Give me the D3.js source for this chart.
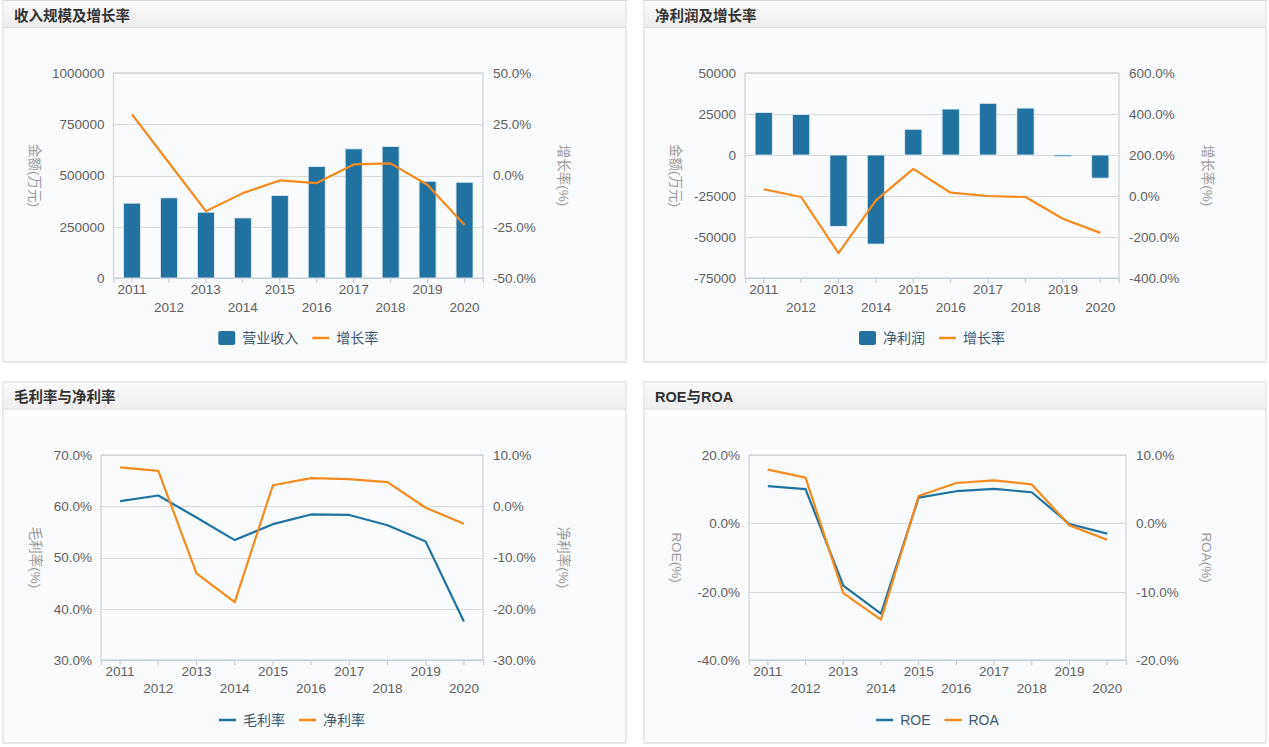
<!DOCTYPE html>
<html><head><meta charset="utf-8">
<script src="https://cdn.jsdelivr.net/npm/d3@7/dist/d3.min.js"></script>
<style>
html,body{margin:0;padding:0;background:#fff;}
svg{display:block;font-family:"Liberation Sans","Noto Sans CJK SC",sans-serif;}
</style></head><body>
<svg id="c" width="1269" height="747"></svg>
<script>
// ---- data ----
const years = ["2011","2012","2013","2014","2015","2016","2017","2018","2019","2020"];
const revenue = [365000, 391000, 321000, 293000, 402000, 544000, 630000, 642000, 472000, 467000];
const revenueGrowth = [29.8, 6.2, -17.4, -8.6, -2.4, -3.7, 5.4, 5.9, -4.6, -24.1];
const netProfit = [25900, 24700, -43500, -54300, 15700, 28000, 31500, 28600, -400, -14100];
const profitGrowth = [32.7, -4.9, -279, -21, 132, 16, 0, -5, -111, -180];
const grossMargin = [61.0, 62.1, 57.8, 53.4, 56.5, 58.4, 58.3, 56.3, 53.1, 37.5];
const netMargin = [7.6, 6.9, -13.1, -18.7, 4.1, 5.5, 5.3, 4.7, -0.3, -3.4];
const roe = [10.9, 10.0, -18.2, -26.4, 7.5, 9.4, 10.1, 9.1, -0.2, -3.0];
const roa = [7.85, 6.7, -10.2, -14.1, 4.0, 5.9, 6.3, 5.7, -0.3, -2.4];
const ticksRev = [0, 250000, 500000, 750000, 1000000];
const ticksRevG = [-50, -25, 0, 25, 50];
const ticksNP = [-75000, -50000, -25000, 0, 25000, 50000];
const ticksNPG = [-400, -200, 0, 200, 400, 600];
const ticksGM = [30, 40, 50, 60, 70];
const ticksNM = [-30, -20, -10, 0, 10];
const ticksROE = [-40, -20, 0, 20];
const ticksROA = [-20, -10, 0, 10];

const BLUE = "#2172a0", ORANGE = "#f58a1f";
const pct = d => d.toFixed(1) + "%";
const svg = d3.select("#c");

const defs = svg.append("defs");
const grad = defs.append("linearGradient").attr("id","hdr").attr("x1",0).attr("y1",0).attr("x2",0).attr("y2",1);
grad.append("stop").attr("offset","0%").attr("stop-color","#fbfbfb");
grad.append("stop").attr("offset","100%").attr("stop-color","#ededed");

const charts = [
  {px:3, py:0.5, pw:623, ph:361.5, title:"收入规模及增长率",
   plot:{l:113.5, r:483, t:73, b:278}, xl:[11,29],
   left:{domain:[0,1000000], ticks:ticksRev, fmt:d=>String(d), title:"金额(万元)", tx:35},
   right:{domain:[-50,50], ticks:ticksRevG, fmt:pct, title:"增长率(%)", tx:564},
   bars:revenue, lines:[{data:revenueGrowth, axis:"right", color:ORANGE}],
   legend:[{type:"bar", name:"营业收入", color:BLUE},{type:"line", name:"增长率", color:ORANGE}], ly:338},
  {px:644, py:0.5, pw:622, ph:361.5, title:"净利润及增长率",
   plot:{l:745, r:1119, t:73, b:278}, xl:[11,29],
   left:{domain:[-75000,50000], ticks:ticksNP, fmt:d=>String(d), title:"金额(万元)", tx:676},
   right:{domain:[-400,600], ticks:ticksNPG, fmt:pct, title:"增长率(%)", tx:1208},
   bars:netProfit, lines:[{data:profitGrowth, axis:"right", color:ORANGE}],
   legend:[{type:"bar", name:"净利润", color:BLUE},{type:"line", name:"增长率", color:ORANGE}], ly:338},
  {px:3, py:382, pw:623, ph:361, title:"毛利率与净利率",
   plot:{l:101, r:483, t:455, b:660}, xl:[11,28],
   left:{domain:[30,70], ticks:ticksGM, fmt:pct, title:"毛利率(%)", tx:35.5},
   right:{domain:[-30,10], ticks:ticksNM, fmt:pct, title:"净利率(%)", tx:564},
   bars:null, lines:[{data:grossMargin, axis:"left", color:BLUE},{data:netMargin, axis:"right", color:ORANGE}],
   legend:[{type:"line", name:"毛利率", color:BLUE},{type:"line", name:"净利率", color:ORANGE}], ly:720},
  {px:644, py:382, pw:622, ph:361, title:"ROE与ROA",
   plot:{l:749, r:1126, t:455, b:660}, xl:[11,28],
   left:{domain:[-40,20], ticks:ticksROE, fmt:pct, title:"ROE(%)", tx:677},
   right:{domain:[-20,10], ticks:ticksROA, fmt:pct, title:"ROA(%)", tx:1206.5},
   bars:null, lines:[{data:roe, axis:"left", color:BLUE},{data:roa, axis:"right", color:ORANGE}],
   legend:[{type:"line", name:"ROE", color:BLUE},{type:"line", name:"ROA", color:ORANGE}], ly:720},
];

charts.forEach(c => {
  const g = svg.append("g");
  // panel
  g.append("rect").attr("x",c.px).attr("y",c.py).attr("width",c.pw).attr("height",c.ph)
    .attr("fill","#fafbfc").attr("stroke","#dcdcdc").attr("stroke-width",1.2);
  g.append("rect").attr("x",c.px+0.6).attr("y",c.py+0.6).attr("width",c.pw-1.2).attr("height",26.5)
    .attr("fill","url(#hdr)");
  g.append("line").attr("x1",c.px).attr("x2",c.px+c.pw).attr("y1",c.py+27).attr("y2",c.py+27)
    .attr("stroke","#dedede");
  g.append("text").attr("x",c.px+11).attr("y",c.py+20).text(c.title)
    .attr("font-size","14.5px").attr("font-weight","bold").attr("fill","#333");

  const p = c.plot;
  const x = d3.scaleBand().domain(years).range([p.l, p.r]);
  const yl = d3.scaleLinear().domain(c.left.domain).range([p.b, p.t]);
  const yr = d3.scaleLinear().domain(c.right.domain).range([p.b, p.t]);

  // grid
  g.append("g").selectAll("line").data(c.left.ticks).join("line")
    .attr("x1",p.l).attr("x2",p.r).attr("y1",d=>Math.round(yl(d))+0.5).attr("y2",d=>Math.round(yl(d))+0.5)
    .attr("stroke","#d9d9d9").attr("stroke-width",1.2);
  // plot border
  g.append("rect").attr("x",p.l).attr("y",p.t).attr("width",p.r-p.l).attr("height",p.b-p.t)
    .attr("fill","none").attr("stroke","#cfd3d8").attr("stroke-width",1.2);

  // y axis labels
  g.append("g").selectAll("text").data(c.left.ticks).join("text")
    .attr("x",p.l-9).attr("y",d=>yl(d)).attr("dy","0.36em").attr("text-anchor","end")
    .attr("font-size","13.5px").attr("fill","#606060").text(c.left.fmt);
  g.append("g").selectAll("text").data(c.right.ticks).join("text")
    .attr("x",p.r+10).attr("y",d=>yr(d)).attr("dy","0.36em").attr("text-anchor","start")
    .attr("font-size","13.5px").attr("fill","#606060").text(c.right.fmt);

  // axis titles
  const cy = (p.t+p.b)/2;
  [c.left, c.right].forEach(a => {
    g.append("text").attr("transform",`translate(${a.tx},${cy}) rotate(90)`)
      .attr("text-anchor","middle").attr("dy","0.35em").attr("font-size","13.5px")
      .attr("fill","#9a9a9a").text(a.title);
  });

  // x axis
  const xa = d3.axisBottom(x).tickSize(5).tickFormat("");
  const xg = g.append("g").attr("transform",`translate(0,${p.b})`).call(xa);
  xg.select(".domain").attr("stroke","#c0d0e0").attr("stroke-width",1.2);
  xg.selectAll(".tick line").attr("stroke","#c0d0e0").attr("stroke-width",1.2);
  g.append("g").selectAll("text").data(years).join("text")
    .attr("x",d=>x(d)+x.bandwidth()/2).attr("y",(d,i)=> p.b + (i%2===0?c.xl[0]:c.xl[1]))
    .attr("dy","0.36em").attr("text-anchor","middle").attr("font-size","13.5px").attr("fill","#606060")
    .text(d=>d);

  // bars
  if (c.bars) {
    const bw = x.bandwidth()*0.46;
    g.append("g").selectAll("rect").data(c.bars).join("rect")
      .attr("x",(d,i)=>x(years[i])+(x.bandwidth()-bw)/2)
      .attr("y",d=>Math.min(yl(d),yl(0)))
      .attr("width",bw)
      .attr("height",d=>Math.max(1.5,Math.abs(yl(d)-yl(0))))
      .attr("fill",BLUE).attr("stroke","#e8eef3").attr("stroke-width",0.8);
  }
  // lines
  c.lines.forEach(l => {
    const ys = l.axis==="left"?yl:yr;
    const line = d3.line().x((d,i)=>x(years[i])+x.bandwidth()/2).y(d=>ys(d));
    g.append("path").datum(l.data).attr("d",line).attr("fill","none")
      .attr("stroke",l.color).attr("stroke-width",2.2).attr("stroke-linejoin","round");
  });

  // legend
  const lg = g.append("g");
  let cx = 0;
  c.legend.forEach((it,i) => {
    const ig = lg.append("g").attr("transform",`translate(${cx},0)`);
    if (it.type==="bar") ig.append("rect").attr("x",0).attr("y",-7).attr("width",17).attr("height",14).attr("rx",2).attr("fill",it.color);
    else ig.append("line").attr("x1",0).attr("x2",17).attr("y1",0).attr("y2",0).attr("stroke",it.color).attr("stroke-width",2.5);
    const t = ig.append("text").attr("x",24).attr("y",0).attr("dy","0.36em").attr("font-size","14px")
      .attr("fill","#3e576f").text(it.name);
    cx += 24 + t.node().getComputedTextLength() + 14;
  });
  const tot = cx - 14;
  lg.attr("transform",`translate(${(p.l+p.r)/2 - tot/2},${c.ly})`);
});
</script></body></html>
